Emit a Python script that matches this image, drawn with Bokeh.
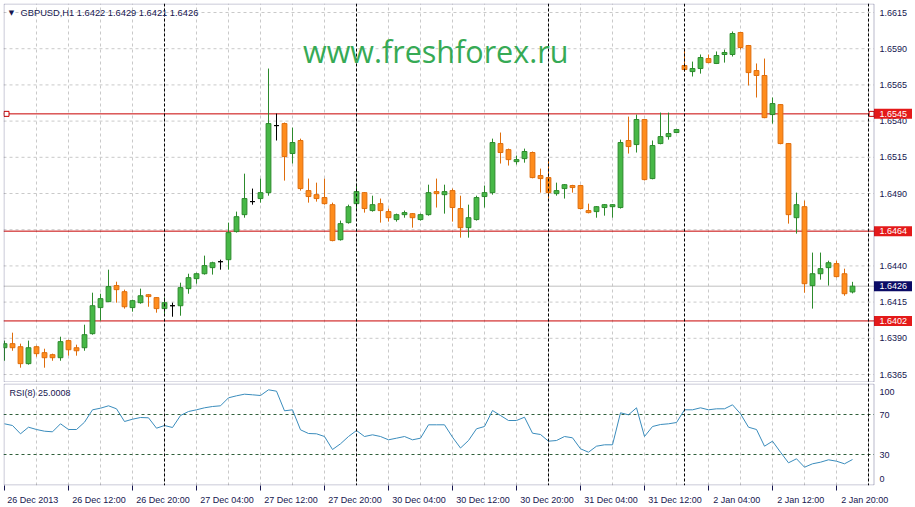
from bokeh.plotting import figure
from bokeh.models import Range1d, FixedTicker, Span, Label, ColumnDataSource, BoxAnnotation
from bokeh.core.properties import value
from bokeh.layouts import column
from bokeh.embed import file_html
from bokeh.resources import INLINE

SYMBOL = "GBPUSD,H1"
WATERMARK = "www.freshforex.ru"

opens = [1.63835, 1.63863, 1.63842, 1.63725, 1.63842, 1.63801, 1.63787, 1.63766, 1.63884, 1.63835,
         1.63835, 1.63932, 1.64112, 1.64153, 1.64264, 1.64222, 1.64112, 1.64146, 1.64201, 1.64181,
         1.64105, 1.64125, 1.64125, 1.64243, 1.64312, 1.64346, 1.64388, 1.64429, 1.64443, 1.64637,
         1.64754, 1.64844, 1.64865, 1.64906, 1.65369, 1.65383, 1.65176, 1.65266, 1.64920, 1.64892,
         1.64872, 1.64823, 1.64581, 1.64699, 1.64830, 1.64906, 1.64782, 1.64830, 1.64775, 1.64720,
         1.64754, 1.64761, 1.64720, 1.64754, 1.64913, 1.64892, 1.64920, 1.64796, 1.64664, 1.64720,
         1.64879, 1.64906, 1.65245, 1.65203, 1.65120, 1.65141, 1.65183, 1.65024, 1.65010, 1.64899,
         1.64934, 1.64955, 1.64955, 1.64782, 1.64775, 1.64803, 1.64809, 1.64803, 1.65266, 1.65238,
         1.65411, 1.65003, 1.65245, 1.65293, 1.65321, 1.65784, 1.65742, 1.65763, 1.65832, 1.65798,
         1.65860, 1.65860, 1.66012, 1.65922, 1.65749, 1.65715, 1.65445, 1.65514, 1.65245, 1.64733,
         1.64809, 1.64264, 1.64346, 1.64388, 1.64416, 1.64346, 1.6422]
highs = [1.63884, 1.63939, 1.63863, 1.63884, 1.63849, 1.63828, 1.63794, 1.63911, 1.63890, 1.63856,
         1.63994, 1.64215, 1.64208, 1.64374, 1.64291, 1.64236, 1.64167, 1.64243, 1.64205, 1.64185,
         1.64181, 1.64146, 1.64284, 1.64346, 1.64353, 1.64471, 1.64429, 1.64443, 1.64699, 1.64775,
         1.65037, 1.64934, 1.65003, 1.65763, 1.65452, 1.65390, 1.65355, 1.65279, 1.65003, 1.64975,
         1.65003, 1.64837, 1.64713, 1.64823, 1.64968, 1.64910, 1.64885, 1.64865, 1.64796, 1.64761,
         1.64782, 1.64765, 1.64761, 1.64961, 1.65003, 1.64961, 1.64934, 1.64885, 1.64823, 1.64885,
         1.64955, 1.65279, 1.65321, 1.65210, 1.65162, 1.65210, 1.65190, 1.65072, 1.65127, 1.64975,
         1.64965, 1.64960, 1.64960, 1.64830, 1.64813, 1.64827, 1.64827, 1.65272, 1.65431, 1.65445,
         1.65415, 1.65266, 1.65459, 1.65459, 1.65346, 1.65901, 1.65811, 1.65860, 1.65860, 1.65881,
         1.65894, 1.66019, 1.66016, 1.65926, 1.65798, 1.65832, 1.65563, 1.65518, 1.65249, 1.64906,
         1.64851, 1.64492, 1.64492, 1.64436, 1.64436, 1.64381, 1.6429]
lows = [1.63745, 1.63814, 1.63697, 1.63718, 1.63773, 1.63697, 1.63745, 1.63745, 1.63780, 1.63780,
        1.63814, 1.63925, 1.64022, 1.64150, 1.64146, 1.64105, 1.64084, 1.64139, 1.64118, 1.64077,
        1.64070, 1.64049, 1.64056, 1.64208, 1.64277, 1.64340, 1.64340, 1.64374, 1.64374, 1.64630,
        1.64733, 1.64823, 1.64837, 1.64885, 1.65266, 1.64989, 1.65107, 1.64920, 1.64837, 1.64844,
        1.64823, 1.64570, 1.64575, 1.64692, 1.64789, 1.64768, 1.64775, 1.64699, 1.64706, 1.64706,
        1.64733, 1.64664, 1.64713, 1.64747, 1.64803, 1.64761, 1.64706, 1.64595, 1.64595, 1.64713,
        1.64803, 1.64892, 1.65107, 1.65093, 1.65100, 1.65113, 1.65005, 1.64906, 1.64865, 1.64885,
        1.64865, 1.64906, 1.64790, 1.64763, 1.64733, 1.64747, 1.64733, 1.64796, 1.65176, 1.65183,
        1.64990, 1.64998, 1.65240, 1.65272, 1.65317, 1.65742, 1.65708, 1.65728, 1.65800, 1.65794,
        1.65804, 1.65846, 1.65894, 1.65646, 1.65563, 1.65420, 1.65383, 1.65240, 1.64692, 1.64623,
        1.64215, 1.64105, 1.64305, 1.64264, 1.64320, 1.64194, 1.6421]
closes = [1.63863, 1.63835, 1.63725, 1.63835, 1.63794, 1.63766, 1.63766, 1.63877, 1.63821, 1.63814,
          1.63925, 1.64125, 1.64174, 1.64257, 1.64236, 1.64118, 1.64160, 1.64194, 1.64188, 1.64105,
          1.64146, 1.64125, 1.64250, 1.64319, 1.64346, 1.64402, 1.64422, 1.64429, 1.64630, 1.64740,
          1.64865, 1.64844, 1.64906, 1.65383, 1.65369, 1.65155, 1.65252, 1.64934, 1.64879, 1.64865,
          1.64830, 1.64575, 1.64692, 1.64809, 1.64913, 1.64796, 1.64823, 1.64782, 1.64733, 1.64754,
          1.64768, 1.64733, 1.64754, 1.64906, 1.64899, 1.64913, 1.64803, 1.64664, 1.64733, 1.64872,
          1.64906, 1.65252, 1.65183, 1.65134, 1.65134, 1.65190, 1.65010, 1.65003, 1.64906, 1.64920,
          1.64961, 1.64941, 1.64796, 1.64768, 1.64809, 1.64823, 1.64823, 1.65252, 1.65224, 1.65411,
          1.64996, 1.65231, 1.65293, 1.65314, 1.65342, 1.65756, 1.65763, 1.65839, 1.65804, 1.65853,
          1.65874, 1.66005, 1.65908, 1.65735, 1.65715, 1.65424, 1.65521, 1.65245, 1.64754, 1.64823,
          1.64277, 1.64346, 1.64381, 1.64422, 1.64326, 1.64208, 1.6426]

rsi = [60.7, 59.0, 50.7, 57.3, 55.0, 53.3, 52.7, 60.7, 55.0, 55.0,
       62.3, 74.7, 76.3, 78.7, 75.7, 63.0, 65.3, 67.0, 66.7, 56.3,
       59.0, 57.0, 69.0, 73.0, 74.7, 76.7, 78.0, 78.7, 86.7, 88.7,
       90.3, 89.7, 89.0, 94.7, 93.3, 73.7, 74.7, 54.7, 51.0, 50.7,
       48.0, 35.0, 40.7, 48.0, 54.0, 48.0, 49.7, 48.0, 44.7, 46.3,
       48.0, 44.7, 46.3, 59.7, 59.7, 59.7, 47.3, 36.5, 44.0, 55.7,
       58.0, 74.0, 69.0, 64.0, 64.0, 67.3, 51.3, 50.0, 43.3, 44.0,
       48.0, 46.7, 35.7, 32.3, 38.3, 39.7, 39.7, 71.7, 69.7, 76.7,
       48.0, 58.0, 60.0, 60.7, 62.0, 74.7, 74.7, 76.7, 74.7, 75.7,
       75.7, 79.7, 70.7, 57.3, 55.0, 38.3, 43.3, 32.3, 21.7, 25.7,
       17.3, 20.7, 22.3, 24.7, 23.3, 20.7, 25.0]
RSI_PERIOD = 8
RSI_LAST = 25.0008
rsi_levels = [30, 70]
rsi_scale = [0, 30, 70, 100]

time_tick_bars = [0, 8, 16, 24, 32, 40, 48, 56, 64, 72, 80, 88, 96, 104]
time_labels = ["26 Dec 2013", "26 Dec 12:00", "26 Dec 20:00", "27 Dec 04:00", "27 Dec 12:00",
               "27 Dec 20:00", "30 Dec 04:00", "30 Dec 12:00", "30 Dec 20:00", "31 Dec 04:00",
               "31 Dec 12:00", "2 Jan 04:00", "2 Jan 12:00", "2 Jan 20:00"]
day_separators = [20, 44, 68, 85, 108]
price_ticks = [1.6365, 1.6390, 1.6415, 1.6440, 1.6465, 1.6490, 1.6515, 1.6540, 1.6565, 1.6590, 1.6615]
level_lines = [1.6545, 1.6464, 1.6402]
bid_price = 1.6426

# ---------------- styling / geometry ----------------
W = 915
H_MAIN = 382
H_RSI = 125
PPB = 8.0                      # pixels per bar
NAVY = "#16164f"
GRID = "#c9c9c9"
FONT = "Liberation Sans"
UP_FILL, UP_LINE = "#47b847", "#2c8a2c"
DN_FILL, DN_LINE = "#ff8c1c", "#de6d0c"
RED = "#c80000"
TAG_RED = "#e41a1a"
TAG_NAVY = "#0b0b66"

x_range = Range1d(-0.125, 113.875)
PLOT_END = 108.6875                      # right edge of the chart area (price scale beyond)
SCALE_TXT_X = PLOT_END + 5.5 / PPB       # left edge of the scale texts
TAG_X = PLOT_END + 19 / PPB              # centre of the coloured price tags
TAG_W = 38 / PPB
y_range = Range1d(1.635948, 1.662122)
PX_PER_PRICE = 379 / (y_range.end - y_range.start)
rsi_range = Range1d(-1, 101)

n = len(opens)
fills, lines_c = [], []
for o, c in zip(opens, closes):
    if c > o:
        fills.append(UP_FILL); lines_c.append(UP_LINE)
    elif c < o:
        fills.append(DN_FILL); lines_c.append(DN_LINE)
    else:
        fills.append("black"); lines_c.append("black")

src = ColumnDataSource(dict(
    x=list(range(n)), h=highs, l=lows,
    top=[max(o, c) for o, c in zip(opens, closes)],
    bottom=[min(o, c) for o, c in zip(opens, closes)],
    fill=fills, line=lines_c))

p = figure(width=W, height=H_MAIN, x_range=x_range, y_range=y_range,
           output_backend="svg", toolbar_location=None,
           x_axis_location=None, y_axis_location=None,
           min_border_left=3, min_border_right=0, min_border_top=3, min_border_bottom=0)
p.outline_line_color = None
p.background_fill_color = "white"
p.border_fill_color = "white"

grid_bars = list(range(4, 109, 4))
p.xgrid.ticker = FixedTicker(ticks=grid_bars)
p.xgrid.grid_line_color = GRID
p.xgrid.grid_line_dash = "3 3"
p.ygrid.visible = False
p.segment(x0=[x_range.start] * len(price_ticks), x1=[PLOT_END] * len(price_ticks),
          y0=price_ticks, y1=price_ticks, line_color=GRID, line_dash="3 3", line_width=1)

for s in day_separators:
    p.add_layout(Span(location=s, dimension="height", line_color="black", line_dash="3 2", line_width=1))
p.segment(x0=[x_range.start], x1=[PLOT_END], y0=[bid_price], y1=[bid_price],
          line_color="#c0c0c0", line_width=1)
p.segment(x0=[x_range.start] * len(level_lines), x1=[PLOT_END] * len(level_lines),
          y0=level_lines, y1=level_lines, line_color=RED, line_width=1)

p.segment(x0="x", y0="l", x1="x", y1="h", line_color="line", line_width=1, source=src)
p.vbar(x="x", width=0.6, top="top", bottom="bottom", fill_color="fill", line_color="line",
       line_width=1, source=src)

p.scatter(x=[x_range.start + 0.375, PLOT_END - 0.3], y=[level_lines[0]] * 2, marker="square",
          size=5, fill_color="white", line_color=RED)

# chart-area border (the price scale to its right has none)
p.add_layout(BoxAnnotation(left=x_range.start + 0.5 / PPB, right=PLOT_END,
                           top=y_range.end - 0.5 / PX_PER_PRICE,
                           bottom=y_range.start + 0.5 / PX_PER_PRICE,
                           fill_alpha=0, line_color=NAVY, line_width=1))

# price scale (right)
p.text(x=[SCALE_TXT_X] * len(price_ticks), y=price_ticks, text=[f"{v:.4f}" for v in price_ticks],
       text_align="left", text_baseline="middle", text_color=NAVY,
       text_font=value(FONT), text_font_size="9px")
tag_vals = level_lines + [bid_price]
tag_cols = [TAG_RED] * len(level_lines) + [TAG_NAVY]
p.rect(x=[TAG_X] * len(tag_vals), y=tag_vals, width=TAG_W, height=10, height_units="screen",
       fill_color=tag_cols, line_color=None)
p.text(x=[SCALE_TXT_X] * len(tag_vals), y=tag_vals, text=[f"{v:.4f}" for v in tag_vals],
       text_align="left", text_baseline="middle", text_color="white",
       text_font=value(FONT), text_font_size="9px")

title = f"{SYMBOL}  {opens[-1]:.4f} {highs[-1]:.4f} {lows[-1]:.4f} {closes[-1]:.4f}"
p.add_layout(Label(x=x_range.start, y=y_range.end, x_offset=8, y_offset=-9, text="\u25bc",
                   text_align="center", text_baseline="middle", text_color=NAVY,
                   text_font="DejaVu Sans", text_font_size="7px"))
p.add_layout(Label(x=x_range.start, y=y_range.end, x_offset=17, y_offset=-9, text=title,
                   text_align="left", text_baseline="middle", text_color=NAVY,
                   text_font=FONT, text_font_size="9.3px"))
p.add_layout(Label(x=53.9, y=y_range.end, y_offset=-47,
                   text=WATERMARK, text_align="center", text_baseline="middle",
                   text_color="#36aa55", text_font="Open Sans", text_font_size="30.5px"))

# ---------------- RSI panel ----------------
r = figure(width=W, height=H_RSI, x_range=x_range, y_range=rsi_range,
           output_backend="svg", toolbar_location=None, y_axis_location=None,
           min_border_left=3, min_border_right=0, min_border_top=1, min_border_bottom=22)
r.outline_line_color = None
r.background_fill_color = "white"
r.border_fill_color = "white"
r.ygrid.visible = False
r.xgrid.ticker = FixedTicker(ticks=grid_bars)
r.xgrid.grid_line_color = GRID
r.xgrid.grid_line_dash = "3 3"

for s in day_separators:
    r.add_layout(Span(location=s, dimension="height", line_color="black", line_dash="3 2", line_width=1))
r.segment(x0=[x_range.start] * len(rsi_levels), x1=[PLOT_END] * len(rsi_levels),
          y0=rsi_levels, y1=rsi_levels, line_color="#2f5f3a", line_dash="3 3", line_width=1)

r.line(x=list(range(n)), y=rsi, line_color="#3a8cbc", line_width=1)

r.add_layout(BoxAnnotation(left=x_range.start + 0.5 / PPB, right=PLOT_END,
                           top=rsi_range.end - 0.5, bottom=rsi_range.start + 0.5,
                           fill_alpha=0, line_color=NAVY, line_width=1))

# RSI scale: MT4 keeps the 0 and 100 labels inside the panel
rsi_label_y = [min(max(v, 5.5), 93) for v in rsi_scale]
r.text(x=[SCALE_TXT_X] * len(rsi_scale), y=rsi_label_y, text=[str(v) for v in rsi_scale],
       text_align="left", text_baseline="middle", text_color=NAVY,
       text_font=value(FONT), text_font_size="9px")

# time labels: MT4 writes them to the right of the bar they belong to
centers = [b + (3 + 0.5 * len(t) * 4.6) / PPB for b, t in zip(time_tick_bars, time_labels)]
r.xaxis.ticker = FixedTicker(ticks=centers, minor_ticks=time_tick_bars)
r.xaxis.major_label_overrides = {float(c): t for c, t in zip(centers, time_labels)}
r.xaxis.axis_line_color = None
r.xaxis.major_tick_out = 0
r.xaxis.major_tick_in = 0
r.xaxis.minor_tick_out = 5
r.xaxis.minor_tick_in = 0
r.xaxis.minor_tick_line_color = NAVY
r.xaxis.major_label_standoff = 4
r.xaxis.major_label_text_font = FONT
r.xaxis.major_label_text_font_size = "9px"
r.xaxis.major_label_text_color = NAVY

r.add_layout(Label(x=x_range.start, y=rsi_range.end, x_offset=6, y_offset=-9,
                   text=f"RSI({RSI_PERIOD}) {RSI_LAST:.4f}", text_align="left",
                   text_baseline="middle", text_color=NAVY, text_font=FONT,
                   text_font_size="9px"))

layout = column(p, r, spacing=0)
open("out.html", "w").write(file_html(layout, INLINE))
